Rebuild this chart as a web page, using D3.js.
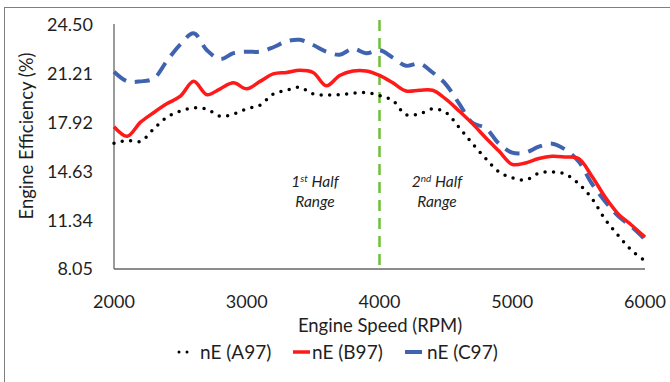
<!DOCTYPE html>
<html><head><meta charset="utf-8">
<script src="https://cdn.jsdelivr.net/npm/d3@7"></script>
<style>body{margin:0;background:#fff}svg{display:block;font-family:Lato,"Open Sans",sans-serif}</style>
</head><body>
<svg id="c" width="670" height="382"></svg>
<script>
const rpm = [2000,2100,2200,2300,2400,2500,2600,2700,2800,2900,3000,3100,3200,3300,3400,3500,3600,3700,3800,3900,4000,4100,4200,4300,4400,4500,4600,4700,4800,4900,5000,5100,5200,5300,5400,5500,5600,5700,5800,5900,6000];
const nEA97 = [16.52,16.72,16.65,17.5,18.3,18.7,18.92,18.82,18.35,18.5,18.85,19.1,19.85,20.1,20.3,19.85,19.78,19.8,19.9,19.95,19.75,19.4,18.45,18.5,18.85,18.6,17.6,16.5,15.5,14.6,14.2,14.05,14.5,14.6,14.45,13.8,12.8,11.4,10.3,9.3,8.6];
const nEB97 = [17.64,17.0,17.95,18.6,19.2,19.7,20.7,19.8,20.2,20.6,20.2,20.7,21.2,21.3,21.45,21.3,20.4,21.1,21.4,21.4,21.1,20.6,20.05,20.1,20.1,19.5,18.7,17.85,16.9,16.0,15.1,15.2,15.5,15.65,15.6,15.5,14.3,12.9,11.75,11.0,10.2];
const nEC97 = [21.35,20.7,20.7,20.9,22.1,23.2,23.95,22.8,22.2,22.6,22.7,22.7,23.0,23.4,23.5,23.15,22.7,22.5,22.9,22.6,22.8,22.3,21.75,21.9,21.3,20.5,19.2,17.9,17.55,16.5,15.9,15.9,16.3,16.5,16.1,15.3,13.8,12.6,11.6,10.9,10.05];
const xTicks = [2000,3000,4000,5000,6000];
const yTicks = [8.05,11.34,14.63,17.92,21.21,24.50];
const seriesNames = ["nE (A97)","nE (B97)","nE (C97)"];

const svg = d3.select("#c");
svg.append("rect").attr("x",4.5).attr("y",7.5).attr("width",700).attr("height",400)
  .attr("fill","none").attr("stroke","#7f7f7f").attr("stroke-width",1);

const x = d3.scaleLinear().domain([2000,6000]).range([114,645]);
const y = d3.scaleLinear().domain([8.05,24.50]).range([269,25]);

svg.append("line").attr("x1",114).attr("x2",114).attr("y1",24).attr("y2",269).attr("stroke","#666").attr("stroke-width",1.3);
svg.append("line").attr("x1",114).attr("x2",645).attr("y1",269).attr("y2",269).attr("stroke","#666").attr("stroke-width",1.3);

const tc = "#1f1f1f";
svg.selectAll(".yt").data(yTicks).enter().append("text")
  .attr("x",93).attr("y",d=>y(d)).attr("dy","0.35em").attr("text-anchor","end")
  .attr("font-size",18).attr("fill",tc).text(d=>d.toFixed(2));
svg.selectAll(".xt").data(xTicks).enter().append("text")
  .attr("x",d=>x(d)).attr("y",302).attr("dy","0.35em").attr("text-anchor","middle")
  .attr("font-size",18).attr("fill",tc).text(d=>d);

svg.append("text").attr("x",380).attr("y",326).attr("dy","0.35em").attr("text-anchor","middle")
  .attr("font-size",18.5).attr("fill",tc).text("Engine Speed (RPM)");
svg.append("text").attr("transform","translate(27,136) rotate(-90)").attr("dy","0.35em")
  .attr("text-anchor","middle").attr("font-size",18.5).attr("fill",tc).text("Engine Efficiency (%)");

svg.append("line").attr("x1",x(4000)).attr("x2",x(4000)).attr("y1",20).attr("y2",269)
  .attr("stroke","#6fbf3a").attr("stroke-width",2.5).attr("stroke-dasharray","11,7");

function ann(cx, sup, supTxt){
  const t = svg.append("text").attr("x",cx).attr("y",187).attr("text-anchor","middle")
    .attr("font-size",15.5).attr("font-style","italic").attr("fill",tc);
  t.append("tspan").text(sup);
  t.append("tspan").attr("font-size",10).attr("dy",-5).text(supTxt);
  t.append("tspan").attr("dy",5).text(" Half");
  svg.append("text").attr("x",cx).attr("y",207).attr("text-anchor","middle")
    .attr("font-size",15.5).attr("font-style","italic").attr("fill",tc).text("Range");
}
ann(315,"1","st");
ann(437,"2","nd");

const line = d3.line().x((d,i)=>x(rpm[i])).y(d=>y(d)).curve(d3.curveCatmullRom.alpha(0.5));
svg.append("path").attr("d",line(nEC97)).attr("fill","none").attr("stroke","#4063b0")
  .attr("stroke-width",4).attr("stroke-dasharray","15,9");
svg.append("path").attr("d",line(nEB97)).attr("fill","none").attr("stroke","#ff1a1a")
  .attr("stroke-width",3.5);
svg.append("path").attr("d",line(nEA97)).attr("fill","none").attr("stroke","#000")
  .attr("stroke-width",3.5).attr("stroke-linecap","round").attr("stroke-dasharray","0,8.5");

const ly = 352;
svg.append("line").attr("x1",179).attr("x2",189).attr("y1",ly).attr("y2",ly).attr("stroke","#000")
  .attr("stroke-width",3).attr("stroke-linecap","round").attr("stroke-dasharray","0,8");
svg.append("text").attr("x",200).attr("y",ly).attr("dy","0.35em").attr("font-size",19).attr("fill",tc).text(seriesNames[0]);
svg.append("line").attr("x1",293).attr("x2",310).attr("y1",ly).attr("y2",ly).attr("stroke","#ff1a1a").attr("stroke-width",3.5);
svg.append("text").attr("x",312).attr("y",ly).attr("dy","0.35em").attr("font-size",19).attr("fill",tc).text(seriesNames[1]);
svg.append("line").attr("x1",405).attr("x2",422).attr("y1",ly).attr("y2",ly).attr("stroke","#4063b0").attr("stroke-width",4);
svg.append("text").attr("x",427).attr("y",ly).attr("dy","0.35em").attr("font-size",19).attr("fill",tc).text(seriesNames[2]);
</script>
</body></html>
